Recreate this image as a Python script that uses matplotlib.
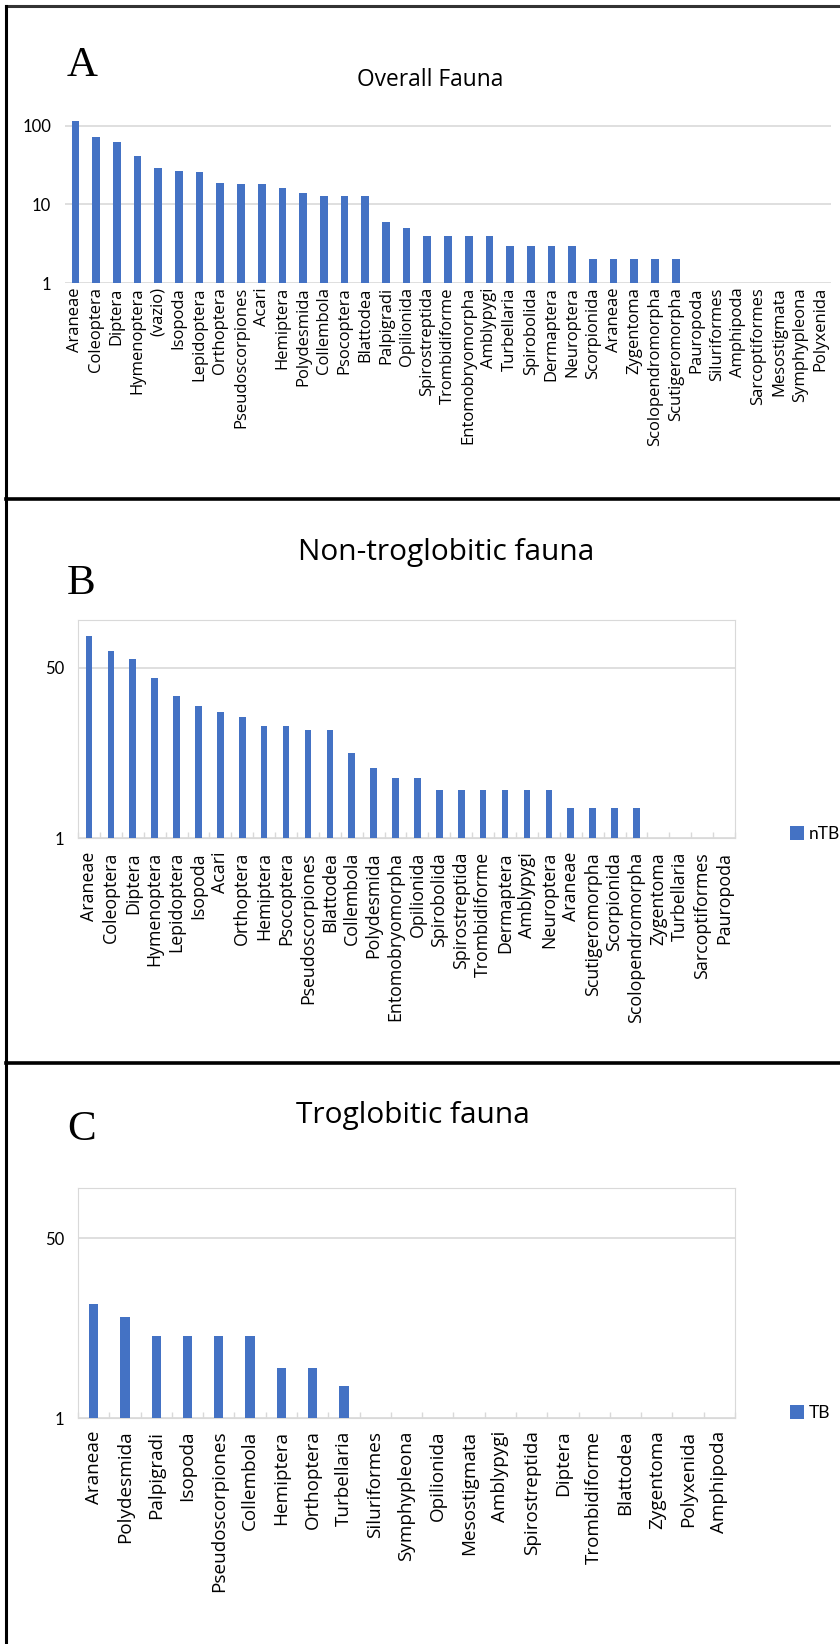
import matplotlib.pyplot as plt
import numpy as np
from matplotlib.lines import Line2D

# 1. Data

overall_taxa = [
    "Araneae", "Coleoptera", "Diptera", "Hymenoptera", "(vazio)", "Isopoda",
    "Lepidoptera", "Orthoptera", "Pseudoscorpiones", "Acari", "Hemiptera",
    "Polydesmida", "Collembola", "Psocoptera", "Blattodea", "Palpigradi",
    "Opilionida", "Spirostreptida", "Trombidiforme", "Entomobryomorpha",
    "Amblypygi", "Turbellaria", "Spirobolida", "Dermaptera", "Neuroptera",
    "Scorpionida", "Araneae", "Zygentoma", "Scolopendromorpha",
    "Scutigeromorpha", "Pauropoda", "Siluriformes", "Amphipoda",
    "Sarcoptiformes", "Mesostigmata", "Symphypleona", "Polyxenida",
]
overall_counts = [
    117, 73, 62, 41, 29, 27, 26, 19, 18, 18, 16, 14, 13, 13, 13, 6, 5, 4, 4, 4,
    4, 3, 3, 3, 3, 2, 2, 2, 2, 2, 1, 1, 1, 1, 1, 1, 1,
]

ntb_taxa = [
    "Araneae", "Coleoptera", "Diptera", "Hymenoptera", "Lepidoptera", "Isopoda",
    "Acari", "Orthoptera", "Hemiptera", "Psocoptera", "Pseudoscorpiones",
    "Blattodea", "Collembola", "Polydesmida", "Entomobryomorpha", "Opilionida",
    "Spirobolida", "Spirostreptida", "Trombidiforme", "Dermaptera", "Amblypygi",
    "Neuroptera", "Araneae", "Scutigeromorpha", "Scorpionida",
    "Scolopendromorpha", "Zygentoma", "Turbellaria", "Sarcoptiformes",
    "Pauropoda",
]
ntb_counts = [
    105, 73, 61, 40, 26, 21, 18, 16, 13, 13, 12, 12, 7, 5, 4, 4, 3, 3, 3, 3, 3,
    3, 2, 2, 2, 2, 1, 1, 1, 1,
]

tb_taxa = [
    "Araneae", "Polydesmida", "Palpigradi", "Isopoda", "Pseudoscorpiones",
    "Collembola", "Hemiptera", "Orthoptera", "Turbellaria", "Siluriformes",
    "Symphypleona", "Opilionida", "Mesostigmata", "Amblypygi", "Spirostreptida",
    "Diptera", "Trombidiforme", "Blattodea", "Zygentoma", "Polyxenida",
    "Amphipoda",
]
tb_counts = [12, 9, 6, 6, 6, 6, 3, 3, 2, 1, 1, 1, 1, 1, 1, 1, 1, 1, 1, 1, 1]


# 2. Figure setup (pixel based layout)

W, H = 840, 1644
BAR_COLOR = "#4472C4"
GRID_COLOR = "#D9D9D9"

fig = plt.figure(figsize=(W / 100, H / 100), dpi=100)


def add_axes_px(left, top, right, bottom):
    return fig.add_axes([left / W, 1 - bottom / H, (right - left) / W, (bottom - top) / H])


def draw_panel(ax, taxa, counts, yticks, label_size, label_pad, width, boxed):
    x = np.arange(len(taxa))
    ax.bar(x, counts, width=width, color=BAR_COLOR, zorder=3)
    ax.set_yscale("log")
    ax.set_xlim(-0.5, len(taxa) - 0.5)
    ax.set_yticks(yticks)
    ax.set_yticklabels([str(t) for t in yticks], fontfamily="Lato", fontsize=12)
    ax.minorticks_off()
    ax.tick_params(axis="y", length=0, pad=10)
    ax.set_xticks(x)
    ax.set_xticklabels(taxa, rotation=90, fontfamily="Open Sans", fontsize=label_size)
    ax.tick_params(axis="x", length=0, pad=label_pad)
    ax.grid(axis="y", color=GRID_COLOR, linewidth=1.2, zorder=0)
    for side in ["left", "right", "top", "bottom"]:
        ax.spines[side].set_visible(boxed)
        ax.spines[side].set_color(GRID_COLOR)
    if boxed:
        # small category ticks along the baseline
        ax.set_xticks(np.arange(len(taxa) + 1) - 0.5, minor=True)
        ax.tick_params(axis="x", which="minor", direction="in", length=4,
                       color=GRID_COLOR, width=1)


def add_legend(ax, name, y_px):
    ax.legend([name], loc="center left", bbox_to_anchor=(774 / W, 1 - y_px / H),
              bbox_transform=fig.transFigure, frameon=False, handlelength=0.8,
              handleheight=0.8, handletextpad=0.3, prop={"family": "Lato", "size": 12.5})


# 3. Panel A: overall fauna

ax_a = add_axes_px(65, 117, 831, 283)
draw_panel(ax_a, overall_taxa, overall_counts, [1, 10, 100], 12, 3, 0.37, False)
ax_a.set_ylim(1, 130)

fig.text(67 / W, 1 - 76 / H, "A", fontfamily="Liberation Serif", fontsize=31)
fig.text(430 / W, 1 - 80 / H, "Overall Fauna", fontfamily="Open Sans", fontsize=16.4,
         ha="center", va="center")


# 4. Panel B: non-troglobitic fauna

ax_b = add_axes_px(78, 620, 735, 838)
draw_panel(ax_b, ntb_taxa, ntb_counts, [1, 50], 12.8, 10, 0.3, True)
ax_b.set_ylim(1, 150)
add_legend(ax_b, "nTB", 834)

fig.text(67 / W, 1 - 594 / H, "B", fontfamily="Liberation Serif", fontsize=31)
fig.text(446 / W, 1 - 552 / H, "Non-troglobitic fauna", fontfamily="Open Sans",
         fontsize=21.5, ha="center", va="center")


# 5. Panel C: troglobitic fauna

ax_c = add_axes_px(78, 1188, 735, 1418)
draw_panel(ax_c, tb_taxa, tb_counts, [1, 50], 13.6, 9, 0.3, True)
ax_c.set_ylim(1, 150)
add_legend(ax_c, "TB", 1413)

fig.text(67 / W, 1 - 1140 / H, "C", fontfamily="Liberation Serif", fontsize=31)
fig.text(413 / W, 1 - 1116 / H, "Troglobitic fauna", fontfamily="Open Sans",
         fontsize=21.5, ha="center", va="center")


# 6. Panel borders

border_lines = [
    ((6, W), (6, 6), 2.2, "#333333"),
    ((6, W), (499, 499), 2.6, "black"),
    ((6, W), (1063, 1063), 2.6, "black"),
    ((6, 6), (6, H), 2.2, "black"),
]
for xs, ys, lw, color in border_lines:
    fig.add_artist(Line2D([xs[0] / W, xs[1] / W], [1 - ys[0] / H, 1 - ys[1] / H],
                          transform=fig.transFigure, color=color, linewidth=lw))

fig.savefig("out.png", dpi=100)
plt.close(fig)
